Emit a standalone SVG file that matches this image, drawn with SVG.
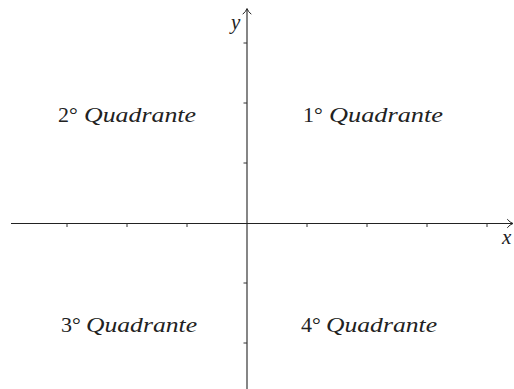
<svg xmlns="http://www.w3.org/2000/svg" width="514" height="389" viewBox="0 0 514 389">
<style>
.ax{stroke:#222;stroke-width:1.1;fill:none}
.tk{stroke:#333;stroke-width:1;fill:none}
.ah{stroke:#222;stroke-width:1;fill:none;stroke-linecap:round}
.num{font-size:22px;fill:#222}
.it{font-style:italic;font-size:22px;fill:#222}
.var{font-style:italic;font-size:21px;fill:#222}
</style>
<rect width="514" height="389" fill="#fff"/>
<g id="connectors">
<line id="x-axis" class="ax" x1="11" y1="223.5" x2="512.5" y2="223.5"/>
<line id="y-axis" class="ax" x1="247" y1="9.5" x2="247" y2="389"/>
<path class="ah" d="M507.5,219.5 Q510,222.5 513,223.5 Q510,224.5 507.5,227.5"/>
<path class="ah" d="M243,14 Q246,11.5 247,8.5 Q248,11.5 251,14"/>
<g id="x-ticks" class="tk">
<line x1="67" y1="223.5" x2="67" y2="227"/>
<line x1="127" y1="223.5" x2="127" y2="227"/>
<line x1="187" y1="223.5" x2="187" y2="227"/>
<line x1="307" y1="223.5" x2="307" y2="227"/>
<line x1="367" y1="223.5" x2="367" y2="227"/>
<line x1="427" y1="223.5" x2="427" y2="227"/>
<line x1="487" y1="223.5" x2="487" y2="227"/>
</g>
<g id="y-ticks" class="tk">
<line x1="243.5" y1="43" x2="247" y2="43"/>
<line x1="243.5" y1="103" x2="247" y2="103"/>
<line x1="243.5" y1="163" x2="247" y2="163"/>
<line x1="243.5" y1="283" x2="247" y2="283"/>
<line x1="243.5" y1="343" x2="247" y2="343"/>
</g>
</g>
<g font-family="Liberation Serif, serif">
<g id="label-y"><text class="var" x="231" y="29">y</text></g>
<g id="label-x"><text class="var" x="502" y="244">x</text></g>
<g id="q2"><text class="num" x="58" y="122">2°</text><text class="it" x="84" y="122" textLength="112" lengthAdjust="spacingAndGlyphs">Quadrante</text></g>
<g id="q1"><text class="num" x="303" y="122">1°</text><text class="it" x="329" y="122" textLength="114" lengthAdjust="spacingAndGlyphs">Quadrante</text></g>
<g id="q3"><text class="num" x="61" y="332">3°</text><text class="it" x="86" y="332" textLength="111" lengthAdjust="spacingAndGlyphs">Quadrante</text></g>
<g id="q4"><text class="num" x="301" y="332">4°</text><text class="it" x="326" y="332" textLength="111" lengthAdjust="spacingAndGlyphs">Quadrante</text></g>
</g>
</svg>
